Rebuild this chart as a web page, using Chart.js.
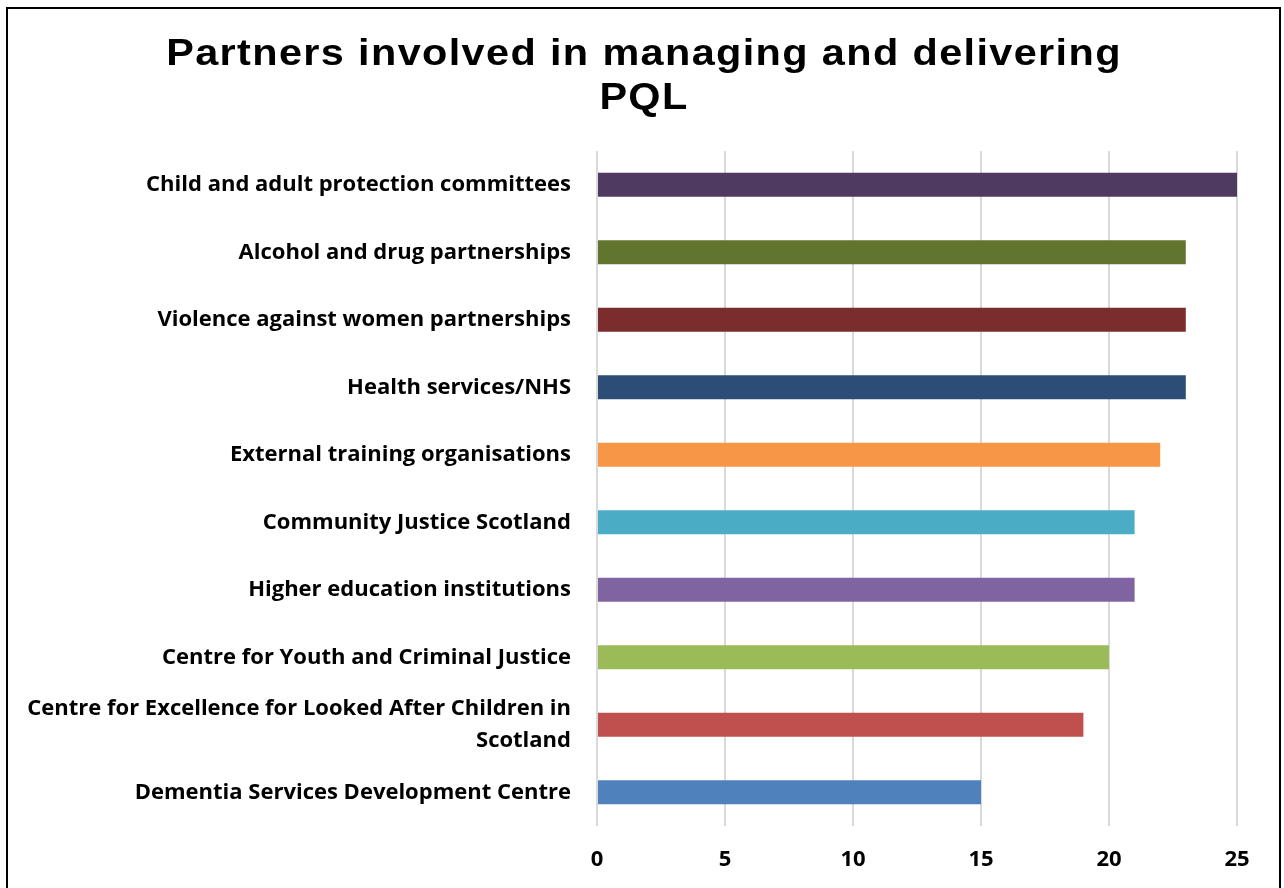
<!DOCTYPE html>
<html>
<head>
<meta charset="utf-8">
<script src="https://cdn.jsdelivr.net/npm/chart.js@4"></script>
<style>
  html, body { margin: 0; padding: 0; background: #fff; }
  #wrap { position: absolute; left: 0; top: 0; width: 1284px; height: 888px; }
  #frame { position: absolute; left: 6px; top: 7px; width: 1271px; height: 890px; border: 2px solid #000; pointer-events: none; }
</style>
</head>
<body>
<div id="wrap"><canvas id="c" width="1284" height="888"></canvas></div>
<div id="frame"></div>
<script>
const categories = [
  "Child and adult protection committees",
  "Alcohol and drug partnerships",
  "Violence against women partnerships",
  "Health services/NHS",
  "External training organisations",
  "Community Justice Scotland",
  "Higher education institutions",
  "Centre for Youth and Criminal Justice",
  ["Centre for Excellence for Looked After Children in", "Scotland"],
  "Dementia Services Development Centre"
];
const values = [25, 23, 23, 23, 22, 21, 21, 20, 19, 15];
const barColors = ["#4f3b62", "#62752f", "#7b2c2c", "#2c4d75", "#f79646", "#4bacc6", "#8064a2", "#9bbb59", "#c0504d", "#4f81bd"];
const xTicks = [0, 5, 10, 15, 20, 25];
const titleLines = ["Partners involved in managing and delivering", "PQL"];

const labelFont = { family: "'Open Sans', sans-serif", size: 22, weight: "bold", lineHeight: 1.45 };
const tickFont = { family: "'Open Sans', sans-serif", size: 22, weight: "bold" };

const titlePlugin = {
  id: "spacedTitle",
  afterDraw(chart) {
    const ctx = chart.ctx;
    const sx = 1.15;
    const cx = 644;
    ctx.save();
    ctx.fillStyle = "#000";
    ctx.font = "bold 36px 'Liberation Sans', Arial, sans-serif";
    ctx.textAlign = "center";
    ctx.textBaseline = "alphabetic";
    try { ctx.letterSpacing = "1.2px"; } catch (e) {}
    ctx.translate(cx, 0);
    ctx.scale(sx, 1);
    ctx.fillText(titleLines[0], 0, 65);
    ctx.fillText(titleLines[1], 0, 109);
    ctx.restore();
  }
};

new Chart(document.getElementById("c"), {
  type: "bar",
  data: {
    labels: categories,
    datasets: [{
      data: values,
      backgroundColor: barColors,
      borderWidth: 0,
      barPercentage: 0.356,
      categoryPercentage: 1
    }]
  },
  plugins: [titlePlugin],
  options: {
    indexAxis: "y",
    responsive: false,
    animation: false,
    layout: { padding: { top: 151, right: 47, bottom: 0, left: 0 } },
    plugins: {
      legend: { display: false },
      tooltip: { enabled: false },
      title: { display: false }
    },
    scales: {
      x: {
        min: 0,
        max: 25,
        afterBuildTicks: (s) => { s.ticks = xTicks.map(v => ({ value: v })); },
        afterFit: (s) => { s.height = 62; },
        grid: { color: "#d9d9d9", lineWidth: 2, drawTicks: false },
        border: { display: false },
        ticks: { color: "#000", font: tickFont, padding: 21 }
      },
      y: {
        afterFit: (s) => { s.width = 597; },
        grid: { display: false },
        border: { display: false },
        ticks: { color: "#000", font: labelFont, padding: 18 }
      }
    }
  }
});
</script>
</body>
</html>
